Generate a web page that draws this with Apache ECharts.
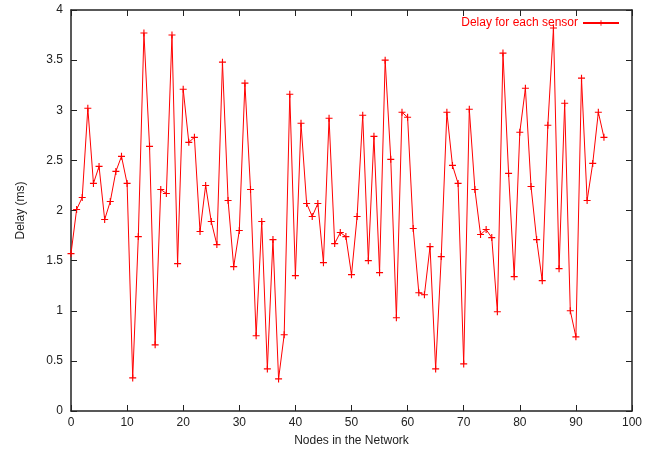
<!DOCTYPE html>
<html>
<head>
<meta charset="utf-8">
<script src="https://cdn.jsdelivr.net/npm/echarts@6/dist/echarts.min.js"></script>
<style>
  html, body { margin: 0; padding: 0; background: #fff; }
  #chart { width: 654px; height: 454px; }
</style>
</head>
<body>
<div id="chart"></div>
<script>
// node index 0..95 and measured delay (ms)
const nodes = Array.from({ length: 96 }, (_, i) => i);
const delays = [
  1.57, 2.01, 2.13, 3.02, 2.27, 2.44, 1.91, 2.09, 2.39, 2.54,
  2.27, 0.33, 1.74, 3.77, 2.64, 0.66, 2.21, 2.17, 3.75, 1.47,
  3.21, 2.68, 2.73, 1.79, 2.25, 1.89, 1.66, 3.48, 2.10, 1.44,
  1.80, 3.27, 2.21, 0.75, 1.89, 0.42, 1.71, 0.32, 0.76, 3.16,
  1.35, 2.87, 2.07, 1.94, 2.07, 1.48, 2.92, 1.67, 1.78, 1.74,
  1.36, 1.94, 2.95, 1.50, 2.74, 1.38, 3.50, 2.51, 0.93, 2.98,
  2.93, 1.82, 1.18, 1.16, 1.64, 0.42, 1.54, 2.98, 2.45, 2.27,
  0.47, 3.01, 2.21, 1.76, 1.81, 1.73, 0.99, 3.57, 2.37, 1.34,
  2.78, 3.22, 2.24, 1.71, 1.30, 2.85, 3.82, 1.42, 3.07, 1.00,
  0.74, 3.32, 2.10, 2.47, 2.98, 2.73
];
const seriesName = 'Delay for each sensor';

const plus = 'path://M4.2,0h1.6v10h-1.6zM0,4.2h10v1.6h-10z';
const fontFamily = '"Liberation Sans", Arial, sans-serif';
const frame = { show: true, onZero: false, lineStyle: { color: '#222', width: 1.5 } };
const ticksIn = { show: true, inside: true, length: 6, lineStyle: { color: '#222', width: 1 } };

const chart = echarts.init(document.getElementById('chart'));
chart.setOption({
  animation: false,
  textStyle: { fontFamily },
  grid: { left: 71, right: 22, top: 10, bottom: 43 },
  legend: {
    right: 29, top: 12,
    align: 'right',
    itemWidth: 36, itemHeight: 7, itemGap: 0,
    textStyle: { color: '#ff0000', fontSize: 12, fontFamily },
    data: [seriesName]
  },
  xAxis: [
    {
      type: 'value', min: 0, max: 100, interval: 10,
      name: 'Nodes in the Network', nameLocation: 'middle', nameGap: 24,
      nameTextStyle: { color: '#222', fontSize: 12 },
      axisLine: frame, axisTick: ticksIn,
      axisLabel: { color: '#222', fontSize: 12, margin: 6 },
      splitLine: { show: false }
    },
    {
      type: 'value', min: 0, max: 100, interval: 10, position: 'top',
      axisLine: frame, axisTick: ticksIn,
      axisLabel: { show: false }, splitLine: { show: false }
    }
  ],
  yAxis: [
    {
      type: 'value', min: 0, max: 4, interval: 0.5,
      name: 'Delay (ms)', nameLocation: 'middle', nameGap: 44,
      nameTextStyle: { color: '#222', fontSize: 12 },
      axisLine: frame, axisTick: ticksIn,
      axisLabel: { color: '#222', fontSize: 12, margin: 8 },
      splitLine: { show: false }
    },
    {
      type: 'value', min: 0, max: 4, interval: 0.5, position: 'right',
      axisLine: frame, axisTick: ticksIn,
      axisLabel: { show: false }, splitLine: { show: false }
    }
  ],
  series: [
    {
      name: seriesName,
      type: 'line',
      data: nodes.map((n, i) => [n, delays[i]]),
      symbol: plus,
      symbolSize: 7,
      symbolKeepAspect: true,
      showAllSymbol: true,
      lineStyle: { color: '#ff0000', width: 1 },
      itemStyle: { color: '#ff0000', borderColor: '#ff0000', borderWidth: 0, opacity: 1 }
    }
  ]
});
</script>
</body>
</html>
